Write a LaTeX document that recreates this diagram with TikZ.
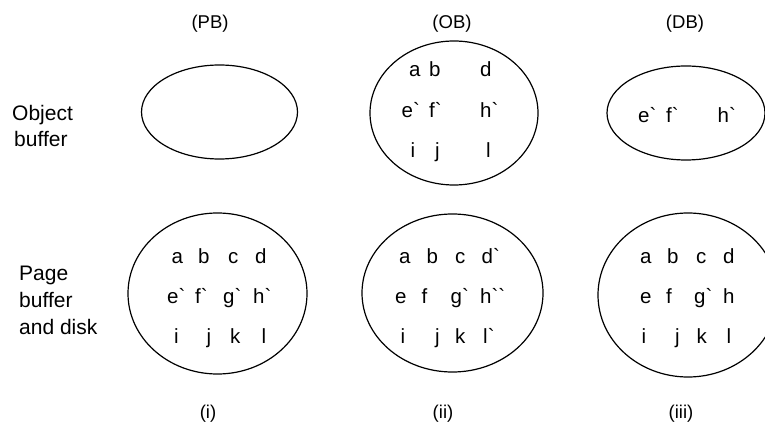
\documentclass[tikz,border=0pt]{standalone}
\usepackage{fontspec}
\newfontfamily\labfont{Liberation Sans}[Ligatures=TeXOff]
\usetikzlibrary{shapes.geometric}
\tikzset{
  buf/.style={ellipse, draw=black, line width=1.2pt, inner sep=0pt},
  ltr/.style={anchor=base west, inner sep=0pt, font=\labfont\fontsize{20.5}{24}\selectfont},
  side/.style={anchor=base west, inner sep=0pt, font=\labfont\fontsize{21}{24}\selectfont},
  head/.style={anchor=base, inner sep=0pt, font=\labfont\fontsize{18.5}{22}\selectfont},
}
\begin{document}
\begin{tikzpicture}[x=1pt, y=-1pt]
\useasboundingbox (0,0) rectangle (765,427);
\clip (0,0) rectangle (765,427);

% column headings and captions
\node[head] (hpb) at (210,29) {(PB)};
\node[head] (hob) at (452,29) {(OB)};
\node[head] (hdb) at (685,29) {(DB)};
\node[head] (cpb) at (208,418) {(i)};
\node[head] (cob) at (443,418) {(ii)};
\node[head] (cdb) at (681,418) {(iii)};

% row labels
\node[side] (ob1) at (12,120.5) {Object};
\node[side] (ob2) at (14,146.5) {buffer};
\node[side] (pg1) at (19,280.5) {Page};
\node[side] (pg2) at (19,307.5) {buffer};
\node[side] (pg3) at (19,334.5) {and disk};

% object buffers
\node[buf, minimum width=156pt, minimum height=94pt]  (obpb) at (219.5,112) {};
\node[buf, minimum width=168pt, minimum height=144pt] (obob) at (454,113) {};
\node[buf, minimum width=158pt, minimum height=94pt]  (obdb) at (686,113) {};

% page buffers and disk
\node[buf, minimum width=179pt, minimum height=161pt] (pbpb) at (217.5,293.5) {};
\node[buf, minimum width=181pt, minimum height=158pt] (pbob) at (452.5,293) {};
\node[buf, minimum width=180pt, minimum height=164pt] (pbdb) at (688,295) {};

% contents of the object buffer (OB)
\foreach \t/\x/\y [count=\i] in {a/409/77, b/429/77, d/480/77,
    e`/401.5/118, f`/429/118, h`/480/118,
    i/410.5/158, j/435/158, l/486/158}
  \node[ltr] (oo\i) at (\x,\y) {\t};

% contents of the object buffer (DB)
\foreach \t/\x/\y [count=\i] in {e`/638/123, f`/666/123, h`/717.5/123}
  \node[ltr] (od\i) at (\x,\y) {\t};

% page buffer (PB)
\foreach \t/\x/\y [count=\i] in {a/171.5/264, b/198/264, c/228/264, d/255/264,
    e`/167/304, f`/195/304, g`/223/304, h`/253/304,
    i/174/343, j/206.5/343, k/230/343, l/261.5/343}
  \node[ltr] (pp\i) at (\x,\y) {\t};

% page buffer (OB)
\foreach \t/\x/\y [count=\i] in {a/399/264, b/426.5/264, c/455/264, d`/481.5/264,
    e/395/304, f/421.5/304, g`/450.5/304, h``/480/304,
    i/400.5/343, j/435/343, k/455/343, l`/483/343}
  \node[ltr] (po\i) at (\x,\y) {\t};

% page buffer (DB)
\foreach \t/\x/\y [count=\i] in {a/640/264, b/667/264, c/696/264, d/723/264,
    e/640/304, f/666/304, g`/694/304, h/723/304,
    i/641.5/343, j/675/343, k/696.5/343, l/726.5/343}
  \node[ltr] (pd\i) at (\x,\y) {\t};
\end{tikzpicture}
\end{document}
